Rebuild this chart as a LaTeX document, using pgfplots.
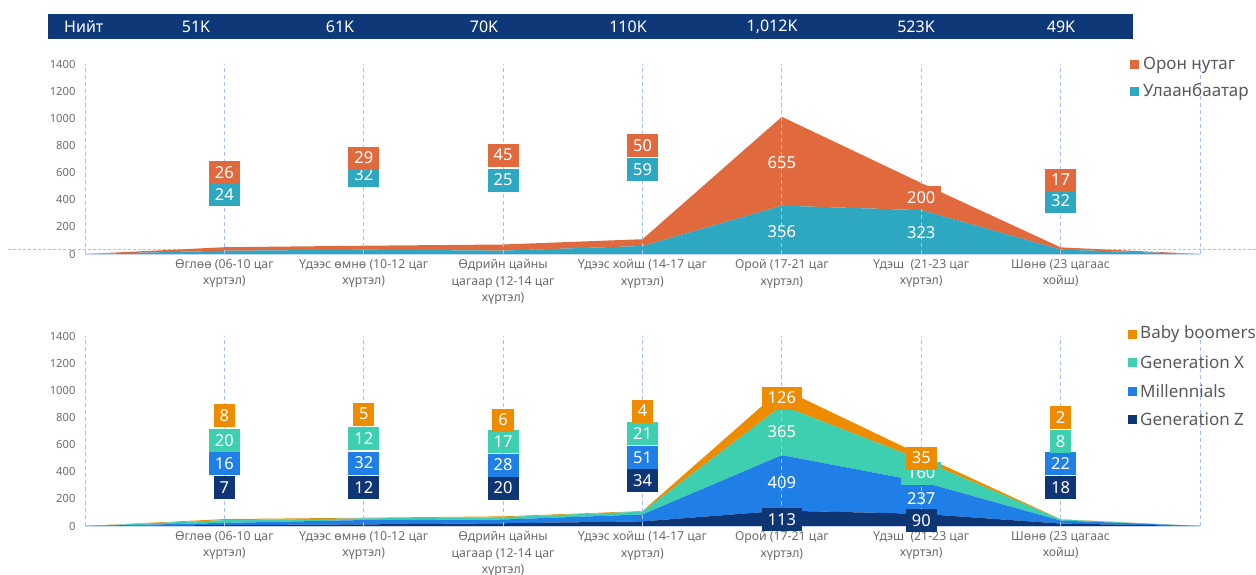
\documentclass[border=0pt]{standalone}
\usepackage{fontspec}
\setmainfont{Noto Sans}
\usepackage{pgfplots}
\pgfplotsset{compat=1.18}
\definecolor{cOr}{HTML}{E06A3E}
\definecolor{cTeal}{HTML}{2EA7C1}
\definecolor{cBB}{HTML}{EE8C00}
\definecolor{cGX}{HTML}{3DCFAF}
\definecolor{cMil}{HTML}{1F7FE6}
\definecolor{cGZ}{HTML}{0E3574}
\definecolor{cHead}{HTML}{0F3878}
\definecolor{cGrid}{HTML}{A9C0F5}
\definecolor{cBase}{HTML}{C5D5F5}
\definecolor{cTxt}{HTML}{6B6B6B}
\definecolor{cLeg}{HTML}{595959}
\tikzset{lbl/.style={text=white, font=\fontsize{16.5}{16.5}\selectfont, inner xsep=6pt, inner ysep=0pt, minimum height=23pt, anchor=center},
 legsq/.style={minimum size=9pt, inner sep=0pt},
 legtx/.style={anchor=west, text=cLeg, font=\fontsize{17}{17}\selectfont, inner sep=0pt}}
\newcommand{\lb}[4]{\node[lbl, fill=#1] at (axis cs:#2,#3) {#4};}
\newcommand{\lt}[3]{\node[lbl] at (axis cs:#1,#2) {#3};}
\pgfplotsset{
 geom/.style={scale only axis, width=1115pt, height=190pt,
  xmin=0, xmax=8, ymin=0, ymax=1400, clip=false},
 myaxis/.style={geom, axis line style={draw=none},
  xtick={0,...,8}, ytick={0,200,...,1400},
  xmajorgrids, grid style={dash pattern=on 4pt off 3pt, color=cGrid, line width=0.8pt},
  major tick length=0pt, stack plots=y, area style,
  xticklabels={{},{Өглөө (06-10 цаг\\[2.5pt]хүртэл)},{Үдээс өмнө (10-12 цаг\\[2.5pt]хүртэл)},{Өдрийн цайны\\[2.5pt]цагаар (12-14 цаг\\[2.5pt]хүртэл)},{Үдээс хойш (14-17 цаг\\[2.5pt]хүртэл)},{Орой (17-21 цаг\\[2.5pt]хүртэл)},{Үдэш\ \ (21-23 цаг\\[2.5pt]хүртэл)},{Шөнө (23 цагаас\\[2.5pt]хойш)},{}},
  xticklabel style={align=center, font=\fontsize{12.3}{14}\selectfont, text=cTxt, yshift=-2pt},
  yticklabel style={font=\fontsize{11.2}{12}\selectfont, text=cTxt, xshift=-6pt},
  /pgf/number format/assume math mode=true, /pgf/number format/1000 sep={}},
 overlay/.style={geom, hide axis}
}
\begin{document}
\begin{tikzpicture}
\useasboundingbox (0pt,0pt) rectangle (1256pt,574pt);
% header bar
\fill[cHead] (48pt,535pt) rectangle (1133pt,560pt);
\begin{scope}[every node/.style={text=white, font=\fontsize{16}{16}\selectfont, inner sep=0pt}]
\node[anchor=west] at (64pt,547.5pt) {Нийт};
\node at (196pt,547.5pt) {51K};
\node at (340pt,547.5pt) {61K};
\node at (484pt,547.5pt) {70K};
\node at (628pt,547.5pt) {110K};
\node at (772pt,547.5pt) {1,012K};
\node at (916pt,547.5pt) {523K};
\node at (1061pt,547.5pt) {49K};
\end{scope}
% gray dashed line
\draw[color=black!25, dash pattern=on 3pt off 2pt, line width=0.6pt] (8pt,324.5pt) -- (1256pt,324.5pt);
% top axis
\begin{axis}[myaxis, at={(85pt,320pt)}, anchor=south west]
\addplot[fill=cTeal, draw=none] coordinates {(0,0) (1,24) (2,32) (3,25) (4,59) (5,356) (6,323) (7,32) (8,0)} \closedcycle;
\addplot[fill=cOr, draw=none] coordinates {(0,0) (1,26) (2,29) (3,45) (4,50) (5,655) (6,200) (7,17) (8,0)} \closedcycle;
\end{axis}
\begin{axis}[overlay, at={(85pt,320pt)}, anchor=south west]
\draw[cBase, line width=0.8pt] (axis cs:0,0) -- (axis cs:8,0);
\lb{cTeal}{1}{435}{24}\lb{cOr}{1}{597}{26}
\lb{cTeal}{2}{582}{32}\lb{cOr}{2}{707}{29}
\lb{cTeal}{3}{545}{25}\lb{cOr}{3}{729}{45}
\lb{cTeal}{4}{619}{59}\lb{cOr}{4}{796}{50}
\lt{5}{673}{655}\lt{5}{164}{356}
\lb{cOr}{6}{413}{200}\lt{6}{155}{323}
\lb{cTeal}{7}{390}{32}\lb{cOr}{7}{545}{17}
\end{axis}
% bottom axis
\begin{axis}[myaxis, at={(85pt,48pt)}, anchor=south west]
\addplot[fill=cGZ, draw=none] coordinates {(0,0) (1,7) (2,12) (3,20) (4,34) (5,113) (6,90) (7,18) (8,0)} \closedcycle;
\addplot[fill=cMil, draw=none] coordinates {(0,0) (1,16) (2,32) (3,28) (4,51) (5,409) (6,237) (7,22) (8,0)} \closedcycle;
\addplot[fill=cGX, draw=none] coordinates {(0,0) (1,20) (2,12) (3,17) (4,21) (5,365) (6,160) (7,8) (8,0)} \closedcycle;
\addplot[fill=cBB, draw=none] coordinates {(0,0) (1,8) (2,5) (3,6) (4,4) (5,126) (6,35) (7,2) (8,0)} \closedcycle;
\end{axis}
\begin{axis}[overlay, at={(85pt,48pt)}, anchor=south west]
\draw[cBase, line width=0.8pt] (axis cs:0,0) -- (axis cs:8,0);
\lb{cGZ}{1}{284}{7}\lb{cMil}{1}{457}{16}\lb{cGX}{1}{630}{20}\lb{cBB}{1}{814}{8}
\lb{cGZ}{2}{287}{12}\lb{cMil}{2}{464}{32}\lb{cGX}{2}{648}{12}\lb{cBB}{2}{825}{5}
\lb{cGZ}{3}{280}{20}\lb{cMil}{3}{449}{28}\lb{cGX}{3}{619}{17}\lb{cBB}{3}{781}{6}
\lb{cGZ}{4}{332}{34}\lb{cMil}{4}{505}{51}\lb{cGX}{4}{681}{21}\lb{cBB}{4}{847}{4}
\lb{cGZ}{5}{46}{113}\lt{5}{317}{409}\lt{5}{695}{365}\lb{cBB}{5}{943}{126}
\lb{cGZ}{6}{37}{90}\lt{6}{199}{237}\lb{cGX}{6}{390}{160}\lb{cBB}{6}{501}{35}
\lb{cGZ}{7}{284}{18}\lb{cMil}{7}{457}{22}\lb{cGX}{7}{619}{8}\lb{cBB}{7}{796}{2}
\end{axis}
% legends
\node[legsq, fill=cOr] at (1134.5pt,509pt) {};
\node[legtx] at (1143pt,509pt) {Орон нутаг};
\node[legsq, fill=cTeal] at (1134.5pt,482pt) {};
\node[legtx] at (1143pt,482pt) {Улаанбаатар};
\node[legsq, fill=cBB] at (1132.5pt,240pt) {};
\node[legtx] at (1140pt,240pt) {Baby boomers};
\node[legsq, fill=cGX] at (1132.5pt,211.5pt) {};
\node[legtx] at (1140pt,211.5pt) {Generation X};
\node[legsq, fill=cMil] at (1132.5pt,183pt) {};
\node[legtx] at (1140pt,183pt) {Millennials};
\node[legsq, fill=cGZ] at (1132.5pt,155pt) {};
\node[legtx] at (1140pt,155pt) {Generation Z};
\end{tikzpicture}
\end{document}
